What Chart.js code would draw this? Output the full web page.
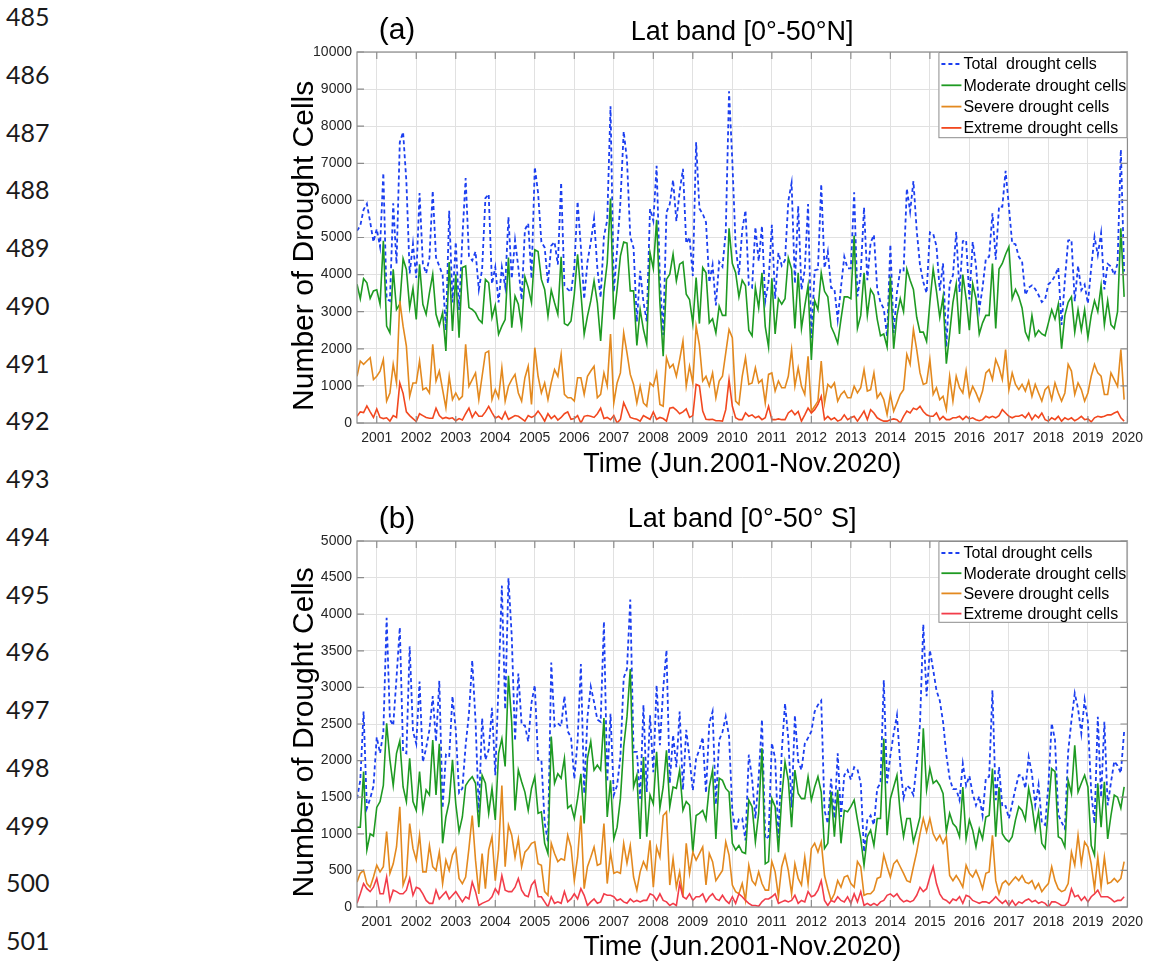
<!DOCTYPE html>
<html>
<head>
<meta charset="utf-8">
<title>Drought cells</title>
<script src="https://cdn.jsdelivr.net/npm/chart.js@4.4.1/dist/chart.umd.min.js"></script>
<style>
  body { margin: 0; background: #fff; width: 1150px; height: 966px; position: relative; overflow: hidden; }
  #lineas { position: absolute; left: 6px; top: -12px; font-family: Lato, "Open Sans", sans-serif; font-size: 25px; line-height: 57.75px; color: #1a1a1a; }
  canvas { position: absolute; left: 280px; }
  #graficoA { top: 0; }
  #graficoB { top: 488px; }
</style>
</head>
<body>
<div id="lineas">
  <div>485</div><div>486</div><div>487</div><div>488</div><div>489</div><div>490</div>
  <div>491</div><div>492</div><div>493</div><div>494</div><div>495</div><div>496</div>
  <div>497</div><div>498</div><div>499</div><div>500</div><div>501</div>
</div>
<canvas id="graficoA" width="870" height="483"></canvas>
<canvas id="graficoB" width="870" height="478"></canvas>
<script>
// eje de tiempo: mes 0 = jun 2001, dibujado media unidad antes del tick 2001
var inicioEje = 2000.5;
var finEje = 2020;
var anios = [2001, 2002, 2003, 2004, 2005, 2006, 2007, 2008, 2009, 2010,
             2011, 2012, 2013, 2014, 2015, 2016, 2017, 2018, 2019, 2020];
var ticksYA = [0, 1000, 2000, 3000, 4000, 5000, 6000, 7000, 8000, 9000, 10000];
var ticksYB = [0, 500, 1000, 1500, 2000, 2500, 3000, 3500, 4000, 4500, 5000];

// (a) banda 0-50N
var totalN = [5180,5320,5750,5910,5420,4880,5230,4750,6740,3340,
 3290,5920,4290,7570,7840,6510,4030,4830,3910,6200,
 4300,4030,4450,6260,4460,4230,3990,2500,5720,3250,
 4880,3050,4990,6600,4500,4380,4620,3600,4140,6060,
 6170,3750,4200,3250,4200,3680,5550,3890,4930,4190,
 3320,5210,5380,3890,6900,6200,4880,4730,3760,4780,
 4880,4270,6480,3700,3610,3530,4180,5970,4730,3340,
 4340,4870,5510,4170,3380,5030,5470,8540,3530,4680,
 5950,7860,7090,5020,4720,2730,4100,3260,2740,5770,
 5450,6930,3890,2370,5680,5900,6550,5440,6240,6850,
 4840,5010,3960,7570,5780,5640,5410,3790,4260,3170,
 4340,4210,5150,8940,7050,4780,3990,5200,5730,3720,
 3650,5280,4360,5310,3280,3810,5340,3350,4590,4240,
 4390,5980,6470,3760,5850,3590,4140,5900,2290,4110,
 4140,6440,4180,4620,3640,3620,2790,3660,4480,4170,
 4170,6220,3410,4030,5810,3850,4860,5070,3620,3250,
 3080,2330,4810,2430,3530,4120,4080,6320,5700,6520,
 5190,4250,3800,3500,5140,5100,4770,3570,4300,2050,
 3750,3980,5150,3530,4900,4930,3330,4880,4250,3050,
 3650,4430,4480,5650,4400,5840,5830,6800,5830,4840,
 4820,4480,4360,3450,3650,3710,3610,3450,3260,3340,
 3740,3820,3970,4190,2640,3850,4920,4940,3280,4240,
 3580,3730,3220,4190,5020,4530,5120,3600,4290,4220,
 3990,4300,7370,4080];
var moderadaN = [3740,3350,3890,3780,3360,3560,3590,3200,4910,2610,
 2430,4140,3060,3200,4430,4140,3110,3630,2790,4280,
 3200,2930,3510,4010,2930,2630,2970,1940,4340,2480,
 4010,2300,4190,4230,3110,3060,2970,2790,2700,3870,
 3780,2840,3170,2390,2610,2790,4460,2570,3420,3200,
 2610,3940,3650,3240,4670,4620,3870,3600,2880,3580,
 3240,2930,4480,2680,2630,2750,3470,4550,3510,2390,
 2880,3290,3830,3240,2210,3560,4320,6050,2790,3600,
 4500,4880,4850,3560,3560,2090,3060,2520,2140,4590,
 4160,5480,3240,1800,3870,4010,4550,3830,4280,4340,
 3470,3330,2680,3920,2680,4190,4050,2700,2810,2430,
 3150,2900,2900,5250,4300,4050,3400,3850,3700,2500,
 2350,3650,3100,4050,2600,2050,3900,2400,3350,3200,
 3350,4450,4150,2550,4050,2550,3150,3700,1700,3300,
 3050,4050,3550,3400,2600,2400,2150,2800,3400,3400,
 3350,5050,2550,2900,4050,2900,3600,3450,2800,2350,
 2400,2050,3950,2000,2900,3350,3000,4150,3850,3600,
 2850,2450,2450,2200,3250,4150,3550,2850,3400,1600,
 2400,3250,3750,2400,4000,3350,2500,3750,3350,2400,
 2700,2900,2900,4300,2550,4150,4300,4550,4750,3350,
 3600,3400,3100,2450,2250,2900,2350,2500,2400,2350,
 2700,3050,2800,3200,2000,2900,3250,3400,2450,3050,
 2500,3050,2300,2900,3300,3000,3700,2650,3300,2650,
 2550,3000,5250,3400];
var severaN = [1260,1670,1580,1670,1760,1170,1260,1400,1710,590,
 810,1580,1080,3290,2610,2070,720,1080,1080,1670,
 900,950,810,2120,1130,1400,900,410,1260,630,
 810,630,720,2120,990,1170,1350,630,1260,1890,
 1940,630,900,680,1490,590,990,1170,1310,810,
 590,1220,1530,500,2030,1260,810,1080,630,1080,
 1440,1260,1850,770,680,680,590,1220,1220,770,
 1260,1400,1530,680,770,1350,1000,2400,540,1080,
 1350,2430,1890,1310,1040,540,990,540,450,1080,
 990,1350,500,450,1760,1490,1580,1260,1710,2210,
 990,1530,1080,2610,2100,1130,1260,1000,1350,680,
 1130,1260,1890,2520,2300,590,500,1260,1760,1040,
 1080,1490,1080,1170,540,1310,1350,860,1130,950,
 950,1260,1980,990,1490,990,770,1800,320,450,
 590,1670,540,1040,950,1080,590,770,860,680,
 680,990,810,950,1440,860,900,1350,680,810,
 630,230,770,320,540,770,900,1850,1580,2520,
 1980,1350,1040,1080,1710,770,950,630,720,360,
 1260,590,1260,950,810,1400,720,990,810,590,
 860,1350,1440,1170,1710,1490,1170,1980,900,1350,
 1040,900,1040,860,1130,720,1040,810,590,900,
 990,630,1080,810,590,810,1580,1400,770,1080,
 900,590,810,1260,1580,1350,1260,770,770,1350,
 1170,990,1980,630];
var extremaN = [180,300,280,460,300,150,380,150,120,140,
 50,200,150,1080,800,300,200,120,40,250,
 200,150,130,130,400,200,120,150,120,140,
 60,120,80,250,400,150,300,180,180,300,
 450,280,130,180,100,300,100,150,200,180,
 120,50,200,150,200,320,200,50,250,120,
 200,80,150,250,300,100,120,200,0,180,
 200,180,150,250,400,120,150,90,200,0,
 100,550,350,150,120,100,50,200,150,100,
 300,100,150,120,50,400,420,350,250,300,
 380,150,200,1040,1000,320,100,90,100,60,
 60,50,360,1170,450,140,90,90,270,180,
 220,140,180,90,140,450,90,90,110,90,
 90,270,340,220,310,50,220,400,270,360,
 500,720,90,180,90,140,50,90,220,90,
 140,180,50,180,320,90,360,270,140,90,
 50,50,90,110,90,0,180,320,270,400,
 360,450,310,220,180,180,270,90,180,90,
 90,140,140,180,90,180,110,140,90,60,
 90,180,140,180,140,200,360,270,180,140,
 180,180,220,140,270,90,220,140,270,90,
 50,140,90,180,50,140,90,140,60,110,
 180,90,110,30,140,180,160,180,220,220,
 270,310,140,50];

// (b) banda 0-50S
var totalS = [1480,1730,2670,1350,1480,1650,2320,2100,2390,3950,
 2560,2480,3130,3820,2120,2100,3560,2400,2230,3080,
 1980,2170,2420,2880,2260,3090,1350,2080,2050,2880,
 2420,1560,1620,2210,2640,3370,2540,1290,2580,2010,
 2150,2720,1800,3060,4390,2700,4490,3700,2270,3190,
 2490,2480,2260,2790,3030,2010,2010,1150,890,3340,
 2470,2510,2470,2880,2400,2320,1750,2270,3320,1550,
 2600,3010,2800,2560,2530,3900,1710,2640,1530,1660,
 2050,3130,3250,4200,2120,2120,1480,2760,1570,2620,
 1840,3030,2210,2980,3510,1690,2350,1910,2670,1600,
 2420,2030,1590,2030,2150,2320,1560,2510,2670,1400,
 2280,2390,2600,2330,1310,1040,1200,1210,910,2080,
 1750,1210,1770,2560,930,960,2240,2030,940,2120,
 2780,2300,1360,2620,1990,1870,2230,2310,2400,2670,
 2760,2820,1320,1140,1750,1210,2100,1230,1800,1870,
 1740,1910,1880,1690,750,1190,1250,1120,1620,1690,
 3100,1690,2070,2370,2620,1940,1490,1660,1620,1530,
 1960,2500,3860,2880,3510,3240,2960,2820,2530,2080,
 1760,1610,1610,1460,1960,1660,1790,1550,1390,1510,
 1250,1760,1780,2960,1460,1910,1370,1380,1210,1410,
 1620,1800,1800,1620,2050,1820,1390,1670,1150,1120,
 1670,2510,2280,1260,1160,1070,2120,2550,2920,2710,
 2370,2830,2530,1570,1140,2600,1500,2530,1390,1700,
 1990,1930,1830,2400];
var moderadaS = [1090,1090,1850,780,1000,970,1360,1440,1660,2510,
 2010,1660,2100,2270,1640,1440,2030,1440,1320,1850,
 1320,1600,1530,2280,1530,2230,870,1230,1440,2010,
 1410,1030,1230,1660,1730,1780,1690,1090,1800,1690,
 1280,1620,1190,2100,2300,1920,3160,2510,1320,1870,
 1710,1570,1320,1620,1780,1280,1300,870,730,2330,
 1690,1820,1760,2030,1350,1390,1210,1480,1820,1140,
 2030,2260,1870,1940,1870,2580,1230,1730,930,1090,
 1480,2190,2600,3250,1640,1800,930,2050,960,1530,
 1410,2120,1350,1640,2140,1370,1640,1620,1870,1320,
 1440,1390,750,1250,1280,1320,1190,1640,1870,930,
 1760,1730,1620,1570,870,780,840,750,730,1460,
 1370,890,1280,2170,590,620,1480,1370,750,1500,
 1980,1730,1090,1870,1550,1480,1480,1780,1460,1640,
 1780,1570,800,870,1570,960,1600,870,1320,1300,
 1370,1460,1190,930,570,960,1050,840,1210,1210,
 2300,980,1480,1640,1800,1280,960,1210,1210,890,
 1050,1230,2440,1600,1890,1690,1730,1660,1550,1030,
 1280,1140,1090,960,1640,930,1190,1050,820,1070,
 930,1230,1250,1890,960,1640,1000,930,890,960,
 1190,1370,1320,1190,1620,1390,1050,1300,870,800,
 1350,1890,1850,960,930,820,1730,1550,2210,1570,
 1690,1800,1640,840,710,1690,1090,1710,930,1250,
 1530,1500,1350,1640];
var severaS = [340,460,500,320,270,410,570,480,550,1030,
 460,590,820,1370,300,430,1140,800,640,980,
 480,480,840,550,500,750,320,640,500,710,
 800,390,320,410,800,1250,640,180,730,250,
 780,960,360,780,1660,550,1120,980,680,930,
 550,750,800,870,890,590,570,210,160,870,
 730,620,660,640,980,820,360,680,1250,250,
 550,680,820,570,590,1140,320,750,460,480,
 460,870,600,840,410,230,480,620,520,910,
 270,820,680,1250,1300,300,660,270,480,140,
 870,460,750,640,730,820,300,730,620,360,
 430,500,890,710,300,210,180,320,90,570,
 360,300,480,320,230,230,620,480,140,550,
 710,500,180,590,390,300,680,320,800,870,
 750,890,430,250,90,180,360,270,410,430,
 320,270,620,550,160,180,180,230,390,410,
 710,550,410,590,640,550,460,360,340,550,
 750,1000,1210,1030,1210,1000,910,980,870,960,
 430,360,430,360,270,570,460,410,500,390,
 250,460,480,980,360,180,320,360,300,360,
 410,360,430,340,320,360,250,320,210,270,
 320,550,360,250,210,230,320,750,570,980,
 590,890,820,590,250,680,270,680,320,340,
 390,340,390,620];
var extremaS = [50,180,320,250,210,270,390,180,180,410,
 90,230,210,180,180,230,390,160,270,250,
 180,90,50,50,230,110,160,210,110,160,
 210,140,70,140,110,340,210,20,50,70,
 90,140,250,180,430,230,210,210,270,390,
 230,160,140,300,360,140,140,70,0,140,
 50,70,50,210,70,110,180,110,250,160,
 20,70,110,50,70,180,160,160,140,90,
 110,70,50,110,70,90,70,90,90,180,
 160,90,180,90,70,20,50,20,320,140,
 110,180,90,140,140,180,70,140,180,110,
 90,160,90,50,140,50,180,140,90,50,
 20,20,10,70,110,110,140,180,50,70,
 90,70,90,160,50,90,70,210,140,160,
 230,360,90,20,90,70,140,90,70,140,
 50,180,70,210,20,50,20,50,20,70,
 90,160,180,140,180,110,70,90,70,90,
 160,270,210,250,410,550,320,180,110,90,
 50,110,90,140,50,160,140,90,70,50,
 70,70,50,90,140,90,50,90,20,90,
 20,70,50,90,110,70,90,50,70,50,
 0,70,70,50,20,20,70,250,140,160,
 90,140,70,140,180,230,140,140,140,110,
 70,90,90,140];

Chart.defaults.font.family = '"Liberation Sans", Arial, Helvetica, sans-serif';
Chart.defaults.color = '#262626';

function puntos(serie) {
    // cada valor es un mes, a partir de inicioEje
    return serie.map(function(v, i) { return { x: inicioEje + i / 12, y: v }; });
}

// marco tipo matlab: caja, marcas hacia adentro, leyenda y letra del panel
var marco = {
    id: 'marco',
    afterDraw: function(chart, args, opts) {
        var ctx = chart.ctx, a = chart.chartArea;
        var xs = chart.scales.x, ys = chart.scales.y;
        ctx.save();
        ctx.strokeStyle = '#8c8c8c';
        ctx.lineWidth = 1.2;
        ctx.strokeRect(a.left, a.top, a.right - a.left, a.bottom - a.top);
        ctx.beginPath();
        xs.ticks.forEach(function(t) {
            var px = xs.getPixelForValue(t.value);
            ctx.moveTo(px, a.top); ctx.lineTo(px, a.top + 7);
            ctx.moveTo(px, a.bottom); ctx.lineTo(px, a.bottom - 7);
        });
        ys.ticks.forEach(function(t) {
            var py = ys.getPixelForValue(t.value);
            ctx.moveTo(a.left, py); ctx.lineTo(a.left + 7, py);
            ctx.moveTo(a.right, py); ctx.lineTo(a.right - 7, py);
        });
        ctx.stroke();

        // leyenda
        var w = 189, h = opts.paso * 4 + 1;
        var bx = a.right - w, by = a.top;
        ctx.fillStyle = '#fff';
        ctx.fillRect(bx, by, w, h);
        ctx.strokeStyle = '#8c8c8c';
        ctx.lineWidth = 1;
        ctx.strokeRect(bx + 0.5, by + 0.5, w - 1, h - 1);
        ctx.font = '16px "Liberation Sans", Arial, sans-serif';
        ctx.textAlign = 'left';
        ctx.textBaseline = 'middle';
        chart.data.datasets.forEach(function(ds, k) {
            var y = by + 12 + k * opts.paso;
            ctx.beginPath();
            ctx.strokeStyle = ds.borderColor;
            ctx.lineWidth = 1.8;
            ctx.setLineDash(ds.borderDash || []);
            ctx.moveTo(bx + 3, y); ctx.lineTo(bx + 23, y);
            ctx.stroke();
            ctx.setLineDash([]);
            ctx.fillStyle = '#000';
            ctx.fillText(ds.label, bx + 25, y + 1);
        });

        ctx.font = '30px "Liberation Sans", Arial, sans-serif';
        ctx.textAlign = 'center';
        ctx.fillStyle = '#000';
        ctx.fillText(opts.letra, a.left + 40, a.top - 21);
        ctx.restore();
    }
};

function crearPanel(id, cfg) {
    var ctx = document.getElementById(id).getContext('2d');
    return new Chart(ctx, {
        type: 'line',
        data: {
            datasets: [{
                label: cfg.etiquetaTotal,
                data: puntos(cfg.total),
                borderColor: '#1c3ff0',
                borderWidth: 1.8,
                borderDash: [4, 3],
                order: 3
            }, {
                label: 'Moderate drought cells',
                data: puntos(cfg.moderada),
                borderColor: '#1e9a22',
                borderWidth: 1.6,
                order: 2
            }, {
                label: 'Severe drought cells',
                data: puntos(cfg.severa),
                borderColor: '#e3891f',
                borderWidth: 1.6,
                order: 1
            }, {
                label: 'Extreme drought cells',
                data: puntos(cfg.extrema),
                borderColor: cfg.rojo,
                borderWidth: 1.6,
                order: 0
            }]
        },
        options: {
            responsive: false,
            animation: false,
            elements: { point: { radius: 0 }, line: { tension: 0 } },
            layout: { padding: { top: 0, right: 17, bottom: 0, left: 0 } },
            plugins: {
                legend: { display: false },
                tooltip: { enabled: false },
                title: {
                    display: true,
                    text: cfg.titulo,
                    fullSize: false,
                    color: '#000',
                    font: { size: 27, weight: 'normal', lineHeight: 1 },
                    padding: { top: cfg.tituloArriba, bottom: cfg.tituloAbajo }
                },
                marco: { letra: cfg.letra, paso: cfg.paso }
            },
            scales: {
                x: {
                    type: 'linear',
                    min: inicioEje,
                    max: finEje,
                    afterBuildTicks: function(s) { s.ticks = anios.map(function(v) { return { value: v }; }); },
                    afterFit: function(s) { s.height = cfg.altoX; },
                    ticks: {
                        autoSkip: false, maxRotation: 0, padding: 7,
                        font: { size: 14 },
                        callback: function(v) { return String(v); }
                    },
                    grid: { color: '#e1e1e1', drawTicks: false },
                    border: { display: false },
                    title: {
                        display: true,
                        text: 'Time (Jun.2001-Nov.2020)',
                        color: '#000',
                        font: { size: 27, lineHeight: 1 },
                        padding: { top: 0, bottom: 4.5 }
                    }
                },
                y: {
                    min: 0,
                    max: cfg.ticksY[cfg.ticksY.length - 1],
                    afterBuildTicks: function(s) { s.ticks = cfg.ticksY.map(function(v) { return { value: v }; }); },
                    afterFit: function(s) { s.width = 77; },
                    ticks: {
                        padding: 5,
                        font: { size: 14 },
                        callback: function(v) { return String(v); }
                    },
                    grid: { color: '#e1e1e1', drawTicks: false },
                    border: { display: false },
                    title: {
                        display: true,
                        text: 'Number of Drought Cells  ',
                        color: '#000',
                        font: { size: 30, lineHeight: 1 },
                        padding: { top: 10, bottom: 0 }
                    }
                }
            }
        },
        plugins: [marco]
    });
}

crearPanel('graficoA', {
    titulo: 'Lat band [0°-50°N]',
    letra: '(a)',
    etiquetaTotal: 'Total  drought cells',
    total: totalN, moderada: moderadaN, severa: severaN, extrema: extremaN,
    rojo: '#f2481f',
    ticksY: ticksYA,
    tituloArriba: 19.5, tituloAbajo: 5.5,
    altoX: 60,
    paso: 21.3
});

crearPanel('graficoB', {
    titulo: 'Lat band [0°-50° S]',
    letra: '(b)',
    etiquetaTotal: 'Total drought cells',
    total: totalS, moderada: moderadaS, severa: severaS, extrema: extremaS,
    rojo: '#f23d4a',
    ticksY: ticksYB,
    tituloArriba: 18.5, tituloAbajo: 7.5,
    altoX: 59,
    paso: 20.2
});
</script>
</body>
</html>
